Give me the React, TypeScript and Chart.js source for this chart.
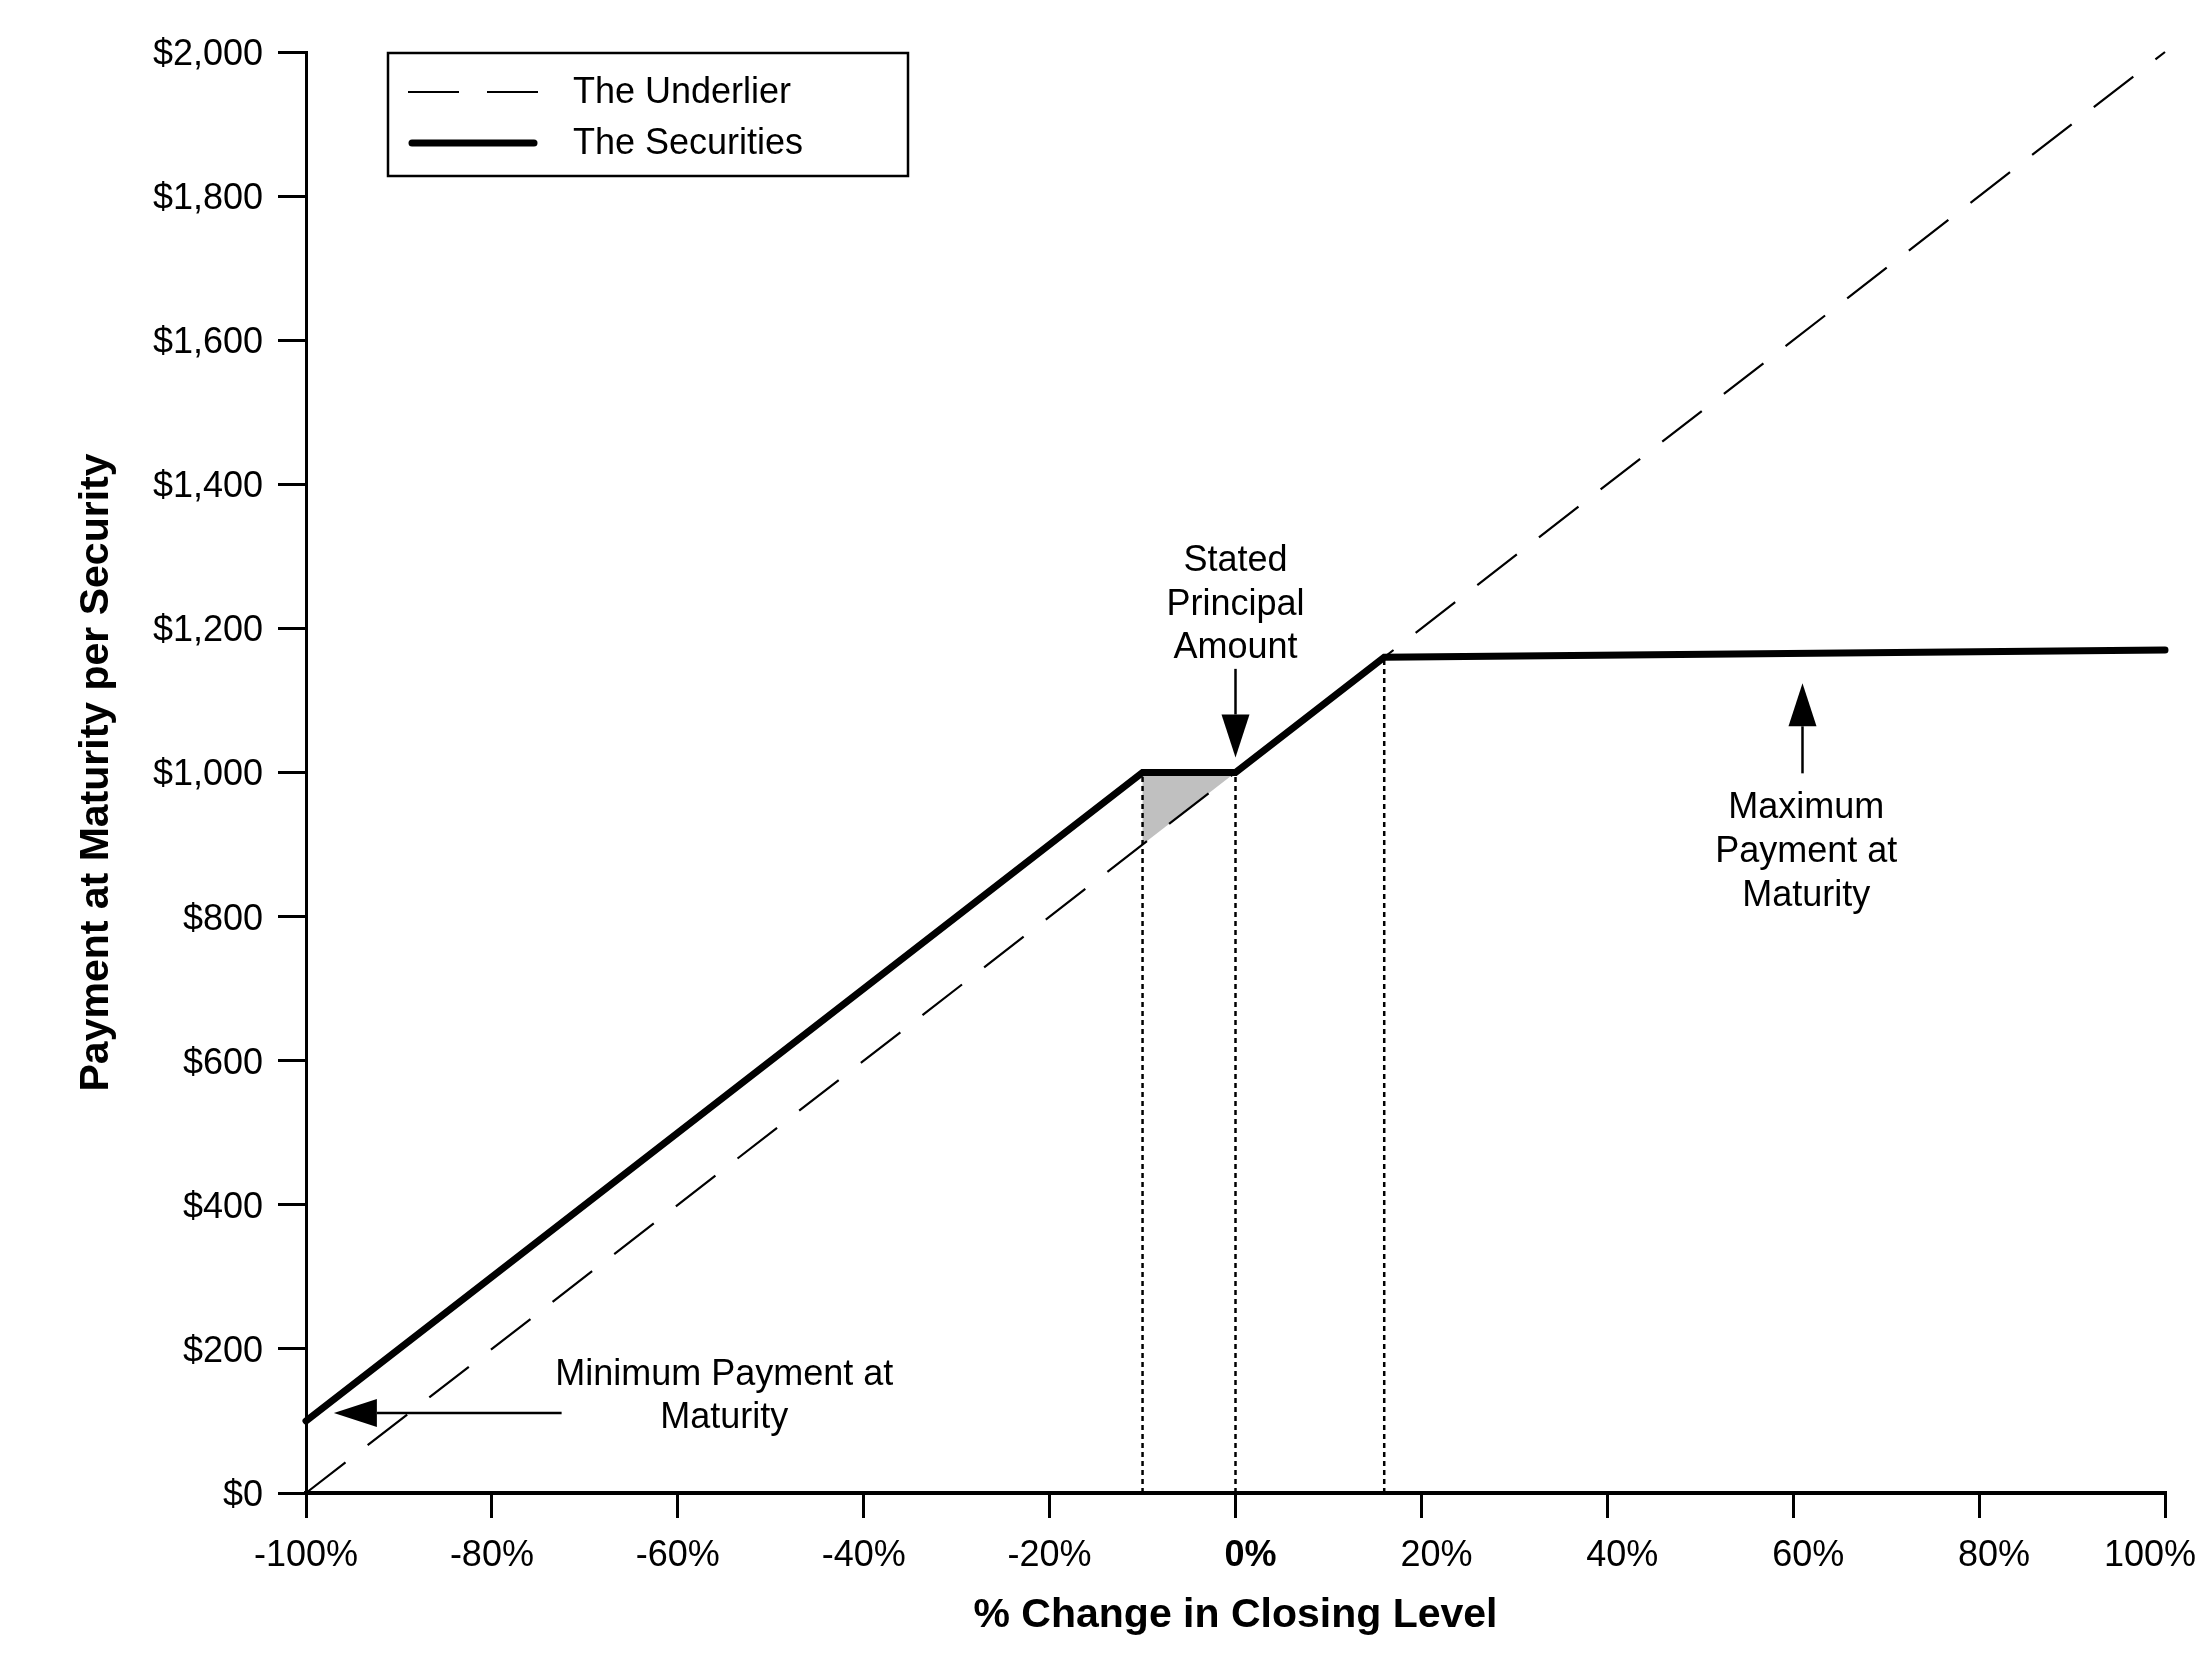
import React, { useEffect, useRef } from 'react';
import Chart from 'chart.js/auto';

const FONT = '"Liberation Sans", Arial, Helvetica, sans-serif';

// values
const underlierX = [-100, 100];
const underlierY = [0, 2000];
const securitiesX = [-100, -10, 0, 16, 100];
const securitiesY = [100, 1000, 1000, 1160, 1170];
const guideX = [-10, 0, 16];
const guideTop = [1000, 1000, 1160];
const bufferX = [-10, -10, 0, -10];
const bufferY = [900, 1000, 1000, 900];
const xTicks = [-100, -80, -60, -40, -20, 0, 20, 40, 60, 80, 100];
const yTicks = [0, 200, 400, 600, 800, 1000, 1200, 1400, 1600, 1800, 2000];

const legendLabels = ['The Underlier', 'The Securities'];
const xTitle = '% Change in Closing Level';
const yTitle = 'Payment at Maturity per Security';

const pts = (xs: number[], ys: number[]) => xs.map((x, i) => ({ x, y: ys[i] }));

const NB = '\u00a0\u00a0\u00a0';
// the source nudges the positive labels right and the last one left
const xLabel = (v: number) => (v === 100 ? `${v}%${NB}` : v >= 0 ? `${NB}${v}%` : `${v}%`);

function arrow(ctx: CanvasRenderingContext2D, x1: number, y1: number, x2: number, y2: number) {
  const ang = Math.atan2(y2 - y1, x2 - x1);
  const len = 43;
  const half = 14;
  const bx = x2 - len * Math.cos(ang);
  const by = y2 - len * Math.sin(ang);
  ctx.lineWidth = 2.5;
  ctx.beginPath();
  ctx.moveTo(x1, y1);
  ctx.lineTo(bx, by);
  ctx.stroke();
  ctx.beginPath();
  ctx.moveTo(x2, y2);
  ctx.lineTo(bx + half * Math.sin(ang), by - half * Math.cos(ang));
  ctx.lineTo(bx - half * Math.sin(ang), by + half * Math.cos(ang));
  ctx.closePath();
  ctx.fill();
}

const overlay = {
  id: 'overlay',
  afterDatasetsDraw(chart: any) {
    const { ctx, chartArea } = chart;
    const xs = chart.scales.x;
    const ys = chart.scales.y;
    const px = (v: number) => xs.getPixelForValue(v);
    const py = (v: number) => ys.getPixelForValue(v) + 3;
    ctx.save();
    ctx.fillStyle = '#000';
    ctx.strokeStyle = '#000';
    ctx.font = `36px ${FONT}`;
    ctx.textAlign = 'center';
    ctx.textBaseline = 'middle';

    // annotations
    ['Stated', 'Principal', 'Amount'].forEach((t, i) => ctx.fillText(t, px(0), py([1298, 1237, 1177][i])));
    arrow(ctx, px(0), py(1148), px(0), py(1025));

    ['Maximum', 'Payment at', 'Maturity'].forEach((t, i) => ctx.fillText(t, px(61.4), py([955, 894, 833][i])));
    arrow(ctx, px(61), py(1003), px(61), py(1128));

    ['Minimum Payment at', 'Maturity'].forEach((t, i) => ctx.fillText(t, px(-55), py([168, 108][i])));
    arrow(ctx, px(-72.5), py(111) - 3, px(-97), py(111) - 3);

    // legend
    const lx = chartArea.left + 82;
    const ly = chartArea.top;
    ctx.lineWidth = 2.5;
    ctx.strokeRect(lx, ly + 1, 520, 123);
    ctx.textAlign = 'left';
    ctx.lineWidth = 2;
    ctx.setLineDash([51, 28]);
    ctx.beginPath();
    ctx.moveTo(lx + 20, ly + 40);
    ctx.lineTo(lx + 150, ly + 40);
    ctx.stroke();
    ctx.setLineDash([]);
    ctx.lineWidth = 7;
    ctx.lineCap = 'round';
    ctx.beginPath();
    ctx.moveTo(lx + 24, ly + 91);
    ctx.lineTo(lx + 146, ly + 91);
    ctx.stroke();
    ctx.fillText(legendLabels[0], lx + 185, ly + 41);
    ctx.fillText(legendLabels[1], lx + 185, ly + 92);
    ctx.restore();
  },
};

const App: React.FC = () => {
  const chartRef = useRef<HTMLCanvasElement>(null);

  useEffect(() => {
    if (!chartRef.current) return;

    const guides = guideX.map((gx, i) => ({
      data: pts([gx, gx], [0, guideTop[i]]),
      showLine: true,
      borderColor: '#000',
      borderWidth: 2.5,
      borderDash: [5, 4],
      pointRadius: 0,
      clip: false as const,
    }));

    const chart = new Chart(chartRef.current, {
      type: 'scatter',
      data: {
        datasets: [
          {
            label: legendLabels[1],
            data: pts(securitiesX, securitiesY),
            showLine: true,
            borderColor: '#000',
            borderWidth: 7,
            borderJoinStyle: 'miter',
            borderCapStyle: 'round',
            pointRadius: 0,
            clip: false as const,
          },
          {
            label: legendLabels[0],
            data: pts(underlierX, underlierY),
            showLine: true,
            borderColor: '#000',
            borderWidth: 2.2,
            borderDash: [50, 28],
            pointRadius: 0,
            clip: false as const,
          },
          ...guides,
          {
            data: pts(bufferX, bufferY),
            showLine: true,
            borderWidth: 0,
            borderColor: 'rgba(0,0,0,0)',
            backgroundColor: '#c0c0c0',
            fill: 'shape',
            pointRadius: 0,
          },
        ] as any,
      },
      options: {
        responsive: true,
        maintainAspectRatio: false,
        animation: false,
        events: [],
        layout: { padding: { left: 0, top: 52, right: 39, bottom: 0 } },
        plugins: {
          legend: { display: false },
          tooltip: { enabled: false },
        },
        scales: {
          x: {
            type: 'linear',
            min: -100,
            max: 100,
            afterBuildTicks: (s: any) => {
              s.ticks = xTicks.map((v) => ({ value: v }));
            },
            afterFit: (s: any) => {
              s.height = 171;
              s.paddingLeft = 0;
              s.paddingRight = 0;
            },
            grid: { drawOnChartArea: false, drawTicks: true, tickLength: 25, color: '#000', lineWidth: 3 },
            border: { display: true, color: '#000', width: 4 },
            ticks: {
              color: '#000',
              padding: 16,
              maxRotation: 0,
              autoSkip: false,
              font: (c: any) => ({ family: FONT, size: 36, weight: c.tick && c.tick.value === 0 ? 'bold' : 'normal' }),
              callback: (v: any) => xLabel(Number(v)),
            },
            title: {
              display: true,
              text: xTitle,
              color: '#000',
              font: { family: FONT, size: 41, weight: 'bold' },
              padding: { top: 0, bottom: 24 },
            },
          },
          y: {
            type: 'linear',
            min: 0,
            max: 2000,
            afterBuildTicks: (s: any) => {
              s.ticks = yTicks.map((v) => ({ value: v }));
            },
            afterFit: (s: any) => {
              s.width = 306;
              s.paddingTop = 0;
              s.paddingBottom = 0;
            },
            grid: { drawOnChartArea: false, drawTicks: true, tickLength: 28, color: '#000', lineWidth: 3 },
            border: { display: true, color: '#000', width: 3 },
            ticks: {
              color: '#000',
              padding: 15,
              labelOffset: 3,
              font: { family: FONT, size: 36 },
              callback: (v: any) => '$' + Number(v).toLocaleString('en-US'),
            },
            title: {
              display: true,
              text: yTitle,
              color: '#000',
              font: { family: FONT, size: 41, weight: 'bold' },
              padding: { top: 72, bottom: 0 },
            },
          },
        },
      },
      plugins: [overlay],
    });

    return () => chart.destroy();
  }, []);

  return (
    <div style={{ position: 'absolute', left: 0, top: 0, width: '2204px', height: '1664px', background: '#fff' }}>
      <canvas ref={chartRef}></canvas>
    </div>
  );
};

export default App;
